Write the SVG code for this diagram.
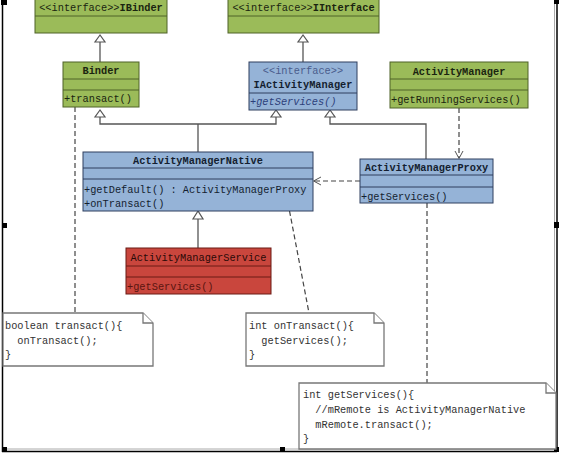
<svg xmlns="http://www.w3.org/2000/svg" width="565" height="455" viewBox="0 0 565 455">
<style>
text{font-family:"Liberation Mono","DejaVu Sans Mono",monospace;font-size:10.3px;}
.t{fill:#1a2410;}
.b{font-weight:bold;}
.m{text-anchor:middle;}
.g{fill:#9bbb59;stroke:#4f6228;stroke-width:1;}
.bl{fill:#95b3d7;stroke:#2f3f5f;stroke-width:1;}
.r{fill:#c9463d;stroke:#6b1a15;stroke-width:1;}
.sep-g{stroke:#4f6228;stroke-width:1;}
.sep-b{stroke:#2f3f5f;stroke-width:1;}
.sep-r{stroke:#6b1a15;stroke-width:1;}
.inh{fill:none;stroke:#555;stroke-width:1.3;}
.tri{fill:#fff;stroke:#555;stroke-width:1.2;}
.dash{fill:none;stroke:#444;stroke-width:1.2;stroke-dasharray:5,3;}
.arr{fill:none;stroke:#555;stroke-width:1;}
.note{fill:#fff;stroke:#777;stroke-width:1.3;}
.nt{fill:#333;}
</style>
<rect width="565" height="455" fill="#fff"/>
<!-- frame -->
<g id="frame">
<line x1="2.5" y1="0" x2="2.5" y2="452" stroke="#000" stroke-width="1.5"/>
<line x1="554.5" y1="0" x2="554.5" y2="450" stroke="#aaa" stroke-width="1"/>
<line x1="557" y1="0" x2="557" y2="452" stroke="#000" stroke-width="1.5"/>
<line x1="2" y1="449" x2="557" y2="449" stroke="#aaa" stroke-width="1"/>
<line x1="2" y1="451.5" x2="557" y2="451.5" stroke="#000" stroke-width="1.5"/>
<rect x="1" y="0" width="6" height="5" fill="#000"/>
<rect x="2" y="223" width="5" height="5" fill="#000"/>
<rect x="2" y="447" width="5" height="5" fill="#000"/>
<rect x="280" y="447" width="5" height="5" fill="#000"/>
<rect x="554" y="447" width="5" height="5" fill="#000"/>
<rect x="554" y="222" width="5" height="6" fill="#000"/>
<rect x="554" y="0" width="5" height="4" fill="#000"/>
<rect x="282" y="0" width="3" height="3" fill="#6a4fd0"/>
</g>
<!-- connectors -->
<g id="connectors">
<line class="inh" x1="100" y1="42" x2="100" y2="62"/>
<path class="tri" d="M100,35 L95,42 L105,42 Z"/>
<line class="inh" x1="303" y1="42" x2="303" y2="62"/>
<path class="tri" d="M303,35 L298,42 L308,42 Z"/>
<path class="inh" d="M100,117 V124 H276 V117 M198,124 V152"/>
<path class="tri" d="M100,110 L95,117 L105,117 Z"/>
<path class="tri" d="M276,110 L271,117 L281,117 Z"/>
<path class="inh" d="M330,117 V124 H426 V159"/>
<path class="tri" d="M330,110 L325,117 L335,117 Z"/>
<line class="inh" x1="198" y1="219" x2="198" y2="248"/>
<path class="tri" d="M198,211 L193,219 L203,219 Z"/>
<line class="dash" x1="459" y1="108" x2="459" y2="158"/>
<path class="arr" d="M455,151 L459,158.5 L463,151"/>
<line class="dash" x1="360" y1="181" x2="314" y2="181"/>
<path class="arr" d="M321,177 L313.5,181 L321,185"/>
<line class="dash" x1="75" y1="107" x2="75" y2="313"/>
<line class="dash" x1="288" y1="203" x2="309" y2="313"/>
<line class="dash" x1="427" y1="203" x2="427" y2="383"/>
</g>
<g id="IBinder">
<rect class="g" x="35" y="-2" width="132" height="35"/>
<line class="sep-g" x1="35" y1="16" x2="167" y2="16"/>
<text class="t m" x="101" y="11">&lt;&lt;interface&gt;&gt;<tspan class="b">IBinder</tspan></text>
</g>
<g id="IInterface">
<rect class="g" x="228" y="-2" width="151" height="35"/>
<line class="sep-g" x1="228" y1="16" x2="379" y2="16"/>
<text class="t m" x="303.5" y="11">&lt;&lt;interface&gt;&gt;<tspan class="b">IInterface</tspan></text>
</g>
<g id="Binder">
<rect class="g" x="63" y="62" width="76" height="45"/>
<line class="sep-g" x1="63" y1="79" x2="139" y2="79"/>
<line class="sep-g" x1="63" y1="90" x2="139" y2="90"/>
<text class="t m b" x="101" y="74">Binder</text>
<text class="t" x="64" y="102">+transact()</text>
</g>
<g id="IActivityManager">
<rect class="bl" x="249" y="62" width="108" height="48"/>
<line class="sep-b" x1="249" y1="93" x2="357" y2="93"/>
<text class="m" x="303" y="74" fill="#4a5c8c">&lt;&lt;interface&gt;&gt;</text>
<text class="m b" x="303" y="88" fill="#141e30">IActivityManager</text>
<text x="250" y="105" fill="#2d3f7a" font-style="italic">+getServices()</text>
</g>
<g id="ActivityManager">
<rect class="g" x="390" y="62" width="138" height="46"/>
<line class="sep-g" x1="390" y1="79" x2="528" y2="79"/>
<line class="sep-g" x1="390" y1="90" x2="528" y2="90"/>
<text class="t m b" x="459" y="75">ActivityManager</text>
<text class="t" x="391" y="103">+getRunningServices()</text>
</g>
<g id="ActivityManagerNative">
<rect class="bl" x="83" y="152" width="230" height="59"/>
<line class="sep-b" x1="83" y1="168" x2="313" y2="168"/>
<line class="sep-b" x1="83" y1="179" x2="313" y2="179"/>
<text class="m b" x="198" y="164" fill="#141e30">ActivityManagerNative</text>
<text x="84" y="193" fill="#141e30">+getDefault() : ActivityManagerProxy</text>
<text x="84" y="207" fill="#141e30">+onTransact()</text>
</g>
<g id="ActivityManagerProxy">
<rect class="bl" x="360" y="159" width="133" height="44"/>
<line class="sep-b" x1="360" y1="175" x2="493" y2="175"/>
<line class="sep-b" x1="360" y1="187" x2="493" y2="187"/>
<text class="m b" x="426.5" y="171" fill="#141e30">ActivityManagerProxy</text>
<text x="361" y="200" fill="#141e30">+getServices()</text>
</g>
<g id="ActivityManagerService">
<rect class="r" x="126" y="248" width="145" height="46"/>
<line class="sep-r" x1="126" y1="266" x2="271" y2="266"/>
<line class="sep-r" x1="126" y1="277" x2="271" y2="277"/>
<text class="m" x="198.5" y="261" fill="#2a0a08">ActivityManagerService</text>
<text x="127" y="290" fill="#5a1510">+getServices()</text>
</g>
<g id="note1">
<path class="note" d="M3,313 H143 L153,323 V366 H3 Z"/>
<path class="note" d="M143,313 V323 H153" fill="none"/>
<text class="nt" x="5" y="329">boolean transact(){</text>
<text class="nt" x="5" y="344" xml:space="preserve">  onTransact();</text>
<text class="nt" x="5" y="358">}</text>
</g>
<g id="note2">
<path class="note" d="M246,313 H374 L384,323 V366 H246 Z"/>
<path class="note" d="M374,313 V323 H384" fill="none"/>
<text class="nt" x="249" y="329">int onTransact(){</text>
<text class="nt" x="249" y="344" xml:space="preserve">  getServices();</text>
<text class="nt" x="249" y="358">}</text>
</g>
<g id="note3">
<path class="note" d="M299,383 H546 L556,393 V449 H299 Z"/>
<path class="note" d="M546,383 V393 H556" fill="none"/>
<text class="nt" x="303" y="398">int getServices(){</text>
<text class="nt" x="303" y="413" xml:space="preserve">  //mRemote is ActivityManagerNative</text>
<text class="nt" x="303" y="428" xml:space="preserve">  mRemote.transact();</text>
<text class="nt" x="303" y="442">}</text>
</g>
</svg>
